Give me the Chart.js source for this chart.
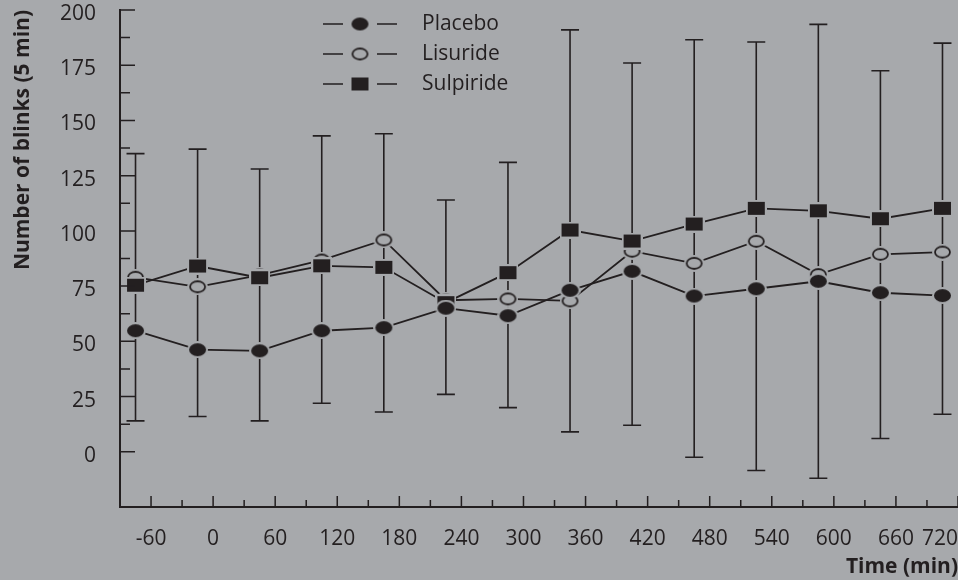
<!DOCTYPE html>
<html>
<head>
<meta charset="utf-8">
<script src="https://cdn.jsdelivr.net/npm/chart.js@4.4.1/dist/chart.umd.min.js"></script>
<style>
  html, body { margin: 0; padding: 0; background: #a7a9ac; }
  canvas { display: block; }
</style>
</head>
<body>
<canvas id="blinkChart" width="958" height="580"></canvas>
<script>
// time (min) of each measurement
const times = [-75, -15, 45, 105, 165, 225, 285, 345, 405, 465, 525, 585, 645, 705];
// number of blinks per 5 min
const placebo   = [54.8, 46.2, 45.7, 54.8, 56.2, 65.0, 61.6, 73.1, 81.7, 70.5, 73.8, 77.2, 72.0, 70.7];
const lisuride  = [79.0, 74.7, 80.0, 86.8, 95.9, 68.6, 69.2, 68.3, 90.8, 85.3, 95.3, 80.2, 89.4, 90.4];
const sulpiride = [75.4, 84.1, 78.8, 84.2, 83.5, 67.5, 81.1, 100.4, 95.4, 103.1, 110.2, 109.1, 105.5, 110.2];
// ends of the error bars at each time point
const errHigh = [135, 137, 128, 143, 144, 114, 131, 191, 176, 186.5, 185.5, 193.5, 172.5, 185];
const errLow  = [14, 16, 14, 22, 18, 26, 20, 9, 12, -2.5, -8.5, -12, 6, 17];
const seriesNames = ['Placebo', 'Lisuride', 'Sulpiride'];
const yTicks = [0, 25, 50, 75, 100, 125, 150, 175, 200];
const xTicks = [-60, 0, 60, 120, 180, 240, 300, 360, 420, 480, 540, 600, 660, 720];

const ink = '#231f20';
const bg = '#a7a9ac';

Chart.defaults.font.family = '"Open Sans", sans-serif';
Chart.defaults.color = ink;

// small canvas markers, slightly wider than tall, with a grey halo
function makeMarker(kind) {
    const w = 17, h = 13, halo = 2;
    const c = document.createElement('canvas');
    c.width = w + halo * 2;
    c.height = h + halo * 2;
    const g = c.getContext('2d');
    const cx = c.width / 2, cy = c.height / 2;
    g.fillStyle = bg;
    if (kind === 'square') {
        g.fillRect(0, 0, c.width, c.height);
        g.fillStyle = ink;
        g.fillRect(halo, halo, w, h);
    } else {
        g.beginPath();
        g.ellipse(cx, cy, w / 2 + halo, h / 2 + halo, 0, 0, Math.PI * 2);
        g.fill();
        g.beginPath();
        if (kind === 'dot') {
            g.ellipse(cx, cy, w / 2, h / 2, 0, 0, Math.PI * 2);
            g.fillStyle = ink;
            g.fill();
        } else {
            g.ellipse(cx, cy, w / 2 - 1, h / 2 - 1, 0, 0, Math.PI * 2);
            g.strokeStyle = ink;
            g.lineWidth = 1.8;
            g.stroke();
        }
    }
    return c;
}

function pairs(values) {
    return times.map((t, i) => ({ x: t, y: values[i] }));
}

const errorBars = {
    id: 'errorBars',
    beforeDatasetsDraw(chart) {
        const { ctx, scales: { x, y } } = chart;
        ctx.save();
        ctx.strokeStyle = ink;
        ctx.lineWidth = 1.6;
        ctx.beginPath();
        times.forEach((t, i) => {
            const px = x.getPixelForValue(t);
            const top = y.getPixelForValue(errHigh[i]);
            const bot = y.getPixelForValue(errLow[i]);
            ctx.moveTo(px, top); ctx.lineTo(px, bot);
            ctx.moveTo(px - 9, top); ctx.lineTo(px + 9, top);
            ctx.moveTo(px - 9, bot); ctx.lineTo(px + 9, bot);
        });
        ctx.stroke();
        ctx.restore();
    }
};

// tick marks pointing into the plot, long ones at labelled values
const innerTicks = {
    id: 'innerTicks',
    afterDraw(chart) {
        const { ctx, chartArea, scales: { x, y } } = chart;
        ctx.save();
        ctx.strokeStyle = ink;
        ctx.lineWidth = 1.5;
        ctx.beginPath();
        y.ticks.forEach(t => {
            if (t.value < 0) return;
            const py = y.getPixelForValue(t.value);
            const len = yTicks.includes(t.value) ? 15 : 10;
            ctx.moveTo(chartArea.left, py); ctx.lineTo(chartArea.left + len, py);
        });
        x.ticks.forEach(t => {
            if (t.value <= x.min) return;
            const px = x.getPixelForValue(t.value);
            const len = xTicks.includes(t.value) ? 11 : 7;
            ctx.moveTo(px, chartArea.bottom); ctx.lineTo(px, chartArea.bottom - len);
        });
        ctx.stroke();
        ctx.restore();
    }
};

// legend drawn as "— marker —  name" rows
const legendRows = {
    id: 'legendRows',
    afterDraw(chart) {
        const ctx = chart.ctx;
        ctx.save();
        ctx.font = '21px "Open Sans"';
        ctx.fillStyle = ink;
        ctx.textBaseline = 'middle';
        ctx.strokeStyle = ink;
        ctx.lineWidth = 1.6;
        chart.data.datasets.forEach((ds, i) => {
            const cy = 24 + i * 30;
            ctx.beginPath();
            ctx.moveTo(323, cy); ctx.lineTo(343, cy);
            ctx.moveTo(377, cy); ctx.lineTo(397, cy);
            ctx.stroke();
            const img = ds.pointStyle;
            ctx.drawImage(img, 360 - img.width / 2, cy - img.height / 2);
            ctx.fillText(ds.label, 422, cy);
        });
        ctx.restore();
    }
};

const lineStyle = { borderColor: ink, borderWidth: 1.8, pointRadius: 8, pointBorderWidth: 0, tension: 0, fill: false };

const ctx = document.getElementById('blinkChart').getContext('2d');
const blinkChart = new Chart(ctx, {
    type: 'line',
    data: {
        datasets: [
            { ...lineStyle, label: seriesNames[0], data: pairs(placebo), pointStyle: makeMarker('dot'), order: 0 },
            { ...lineStyle, label: seriesNames[1], data: pairs(lisuride), pointStyle: makeMarker('ring'), order: 2 },
            { ...lineStyle, label: seriesNames[2], data: pairs(sulpiride), pointStyle: makeMarker('square'), order: 1 }
        ]
    },
    options: {
        responsive: false,
        animation: false,
        layout: { autoPadding: false, padding: { top: 10, left: 0, right: 0, bottom: 0 } },
        plugins: { legend: { display: false }, tooltip: { enabled: false } },
        scales: {
            x: {
                type: 'linear',
                min: -90,
                max: 720,
                grid: { display: false, drawTicks: false },
                border: { display: true, color: ink, width: 2 },
                ticks: {
                    stepSize: 30,
                    autoSkip: false,
                    maxRotation: 0,
                    align: 'inner',
                    padding: 19,
                    font: { size: 21 },
                    callback: v => xTicks.includes(v) ? String(v) : ''
                },
                title: {
                    display: true,
                    text: 'Time (min)',
                    align: 'end',
                    font: { size: 21, weight: 'bold' },
                    padding: { top: 0, bottom: 0 }
                },
                afterFit(scale) {
                    scale.height = 73;
                    scale.paddingLeft = 0;
                    scale.paddingRight = 0;
                }
            },
            y: {
                min: -25,
                max: 200,
                grid: { display: false, drawTicks: false },
                border: { display: true, color: ink, width: 2 },
                ticks: {
                    stepSize: 12.5,
                    autoSkip: false,
                    padding: 24,
                    labelOffset: 4,
                    font: { size: 21 },
                    callback: v => yTicks.includes(v) ? String(v) : ''
                },
                title: {
                    display: true,
                    text: 'Number of blinks (5 min)',
                    align: 'end',
                    font: { size: 21, weight: 'bold' },
                    padding: { top: 10, bottom: 0 }
                },
                afterFit(scale) {
                    scale.width = 120;
                    scale.paddingTop = 0;
                    scale.paddingBottom = 0;
                }
            }
        }
    },
    plugins: [errorBars, innerTicks, legendRows]
});
</script>
</body>
</html>
